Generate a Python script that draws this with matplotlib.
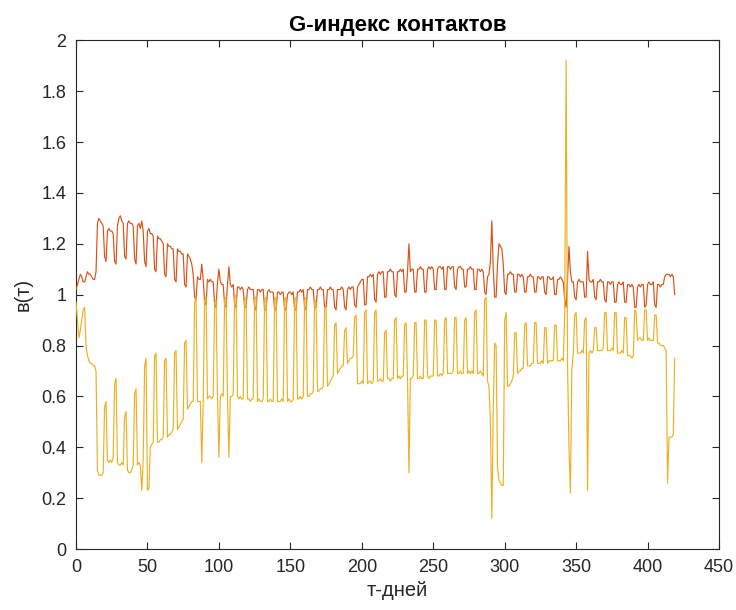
import numpy as np
import matplotlib
matplotlib.use("Agg")
import matplotlib.pyplot as plt
from matplotlib.ticker import FormatStrFormatter

plt.rcParams["font.family"] = ["Liberation Sans", "DejaVu Sans"]

# values, one row per week (days 7w .. 7w+6)
g_upper = [
  1.02, 1.04, 1.06, 1.08, 1.07, 1.05, 1.05,
  1.07, 1.09, 1.08, 1.08, 1.07, 1.06, 1.06,
  1.09, 1.28, 1.30, 1.29, 1.28, 1.27, 1.15,
  1.13, 1.25, 1.26, 1.25, 1.25, 1.24, 1.13,
  1.12, 1.27, 1.30, 1.31, 1.29, 1.28, 1.15,
  1.14, 1.28, 1.29, 1.28, 1.28, 1.27, 1.14,
  1.12, 1.27, 1.28, 1.26, 1.29, 1.25, 1.13,
  1.11, 1.25, 1.26, 1.24, 1.24, 1.23, 1.10,
  1.09, 1.23, 1.22, 1.22, 1.21, 1.20, 1.08,
  1.07, 1.20, 1.19, 1.19, 1.18, 1.18, 1.06,
  1.05, 1.18, 1.17, 1.17, 1.16, 1.16, 1.04,
  1.03, 1.16, 1.15, 1.14, 1.12, 1.08, 0.99,
  0.98, 1.07, 1.06, 1.06, 1.12, 1.06, 0.97,
  0.96, 1.06, 1.05, 1.06, 1.05, 1.05, 0.96,
  0.95, 1.05, 1.10, 1.05, 1.04, 1.04, 0.96,
  0.95, 1.04, 1.11, 1.04, 1.03, 1.04, 0.96,
  0.95, 1.03, 1.03, 1.02, 1.03, 1.02, 0.95,
  0.95, 1.02, 1.03, 1.02, 1.02, 1.02, 0.95,
  0.94, 1.02, 1.02, 1.01, 1.02, 1.02, 0.94,
  0.94, 1.01, 1.02, 1.01, 1.01, 1.01, 0.94,
  0.94, 1.01, 1.01, 1.00, 1.01, 1.01, 0.94,
  0.94, 1.00, 1.01, 1.01, 1.00, 1.01, 0.94,
  0.94, 1.01, 1.01, 1.02, 1.01, 1.02, 0.95,
  0.94, 1.02, 1.02, 1.03, 1.02, 1.02, 0.95,
  0.95, 1.02, 1.02, 1.03, 1.02, 1.02, 0.95,
  0.95, 1.02, 1.02, 1.03, 1.02, 1.02, 0.95,
  0.94, 1.02, 1.02, 1.02, 1.03, 1.02, 0.95,
  0.94, 1.02, 1.03, 1.02, 1.03, 1.03, 0.96,
  0.95, 1.03, 1.04, 1.05, 1.06, 1.06, 0.96,
  0.96, 1.07, 1.07, 1.08, 1.07, 1.08, 0.98,
  0.97, 1.08, 1.09, 1.08, 1.09, 1.09, 0.99,
  0.99, 1.09, 1.09, 1.10, 1.09, 1.09, 1.00,
  0.99, 1.09, 1.09, 1.10, 1.09, 1.10, 1.01,
  1.01, 1.09, 1.20, 1.09, 1.10, 1.10, 1.01,
  1.01, 1.10, 1.10, 1.11, 1.10, 1.10, 1.01,
  1.01, 1.10, 1.11, 1.10, 1.11, 1.10, 1.02,
  1.02, 1.10, 1.11, 1.11, 1.10, 1.11, 1.02,
  1.02, 1.11, 1.11, 1.10, 1.11, 1.11, 1.03,
  1.02, 1.10, 1.11, 1.11, 1.10, 1.10, 1.03,
  1.03, 1.10, 1.10, 1.11, 1.10, 1.10, 1.02,
  1.02, 1.10, 1.10, 1.09, 1.10, 1.09, 1.01,
  1.00, 1.07, 1.08, 1.13, 1.29, 1.10, 0.99,
  0.99, 1.12, 1.20, 1.19, 1.18, 1.12, 1.01,
  1.00, 1.08, 1.08, 1.09, 1.08, 1.08, 1.01,
  1.01, 1.08, 1.08, 1.07, 1.08, 1.07, 1.01,
  1.01, 1.07, 1.07, 1.08, 1.07, 1.07, 1.01,
  1.01, 1.07, 1.07, 1.06, 1.07, 1.07, 1.01,
  1.00, 1.07, 1.07, 1.06, 1.06, 1.07, 1.00,
  1.00, 1.06, 1.06, 1.07, 1.06, 1.05, 0.98,
  0.95, 1.06, 1.19, 1.09, 1.05, 1.05, 0.99,
  0.98, 1.05, 1.06, 1.05, 1.05, 1.05, 0.99,
  0.99, 1.17, 1.06, 1.05, 1.05, 1.06, 0.99,
  0.98, 1.05, 1.05, 1.06, 1.05, 1.05, 0.98,
  0.97, 1.05, 1.05, 1.04, 1.05, 1.05, 0.97,
  0.97, 1.04, 1.05, 1.04, 1.04, 1.05, 0.97,
  0.97, 1.04, 1.04, 1.03, 1.04, 1.03, 0.95,
  0.95, 1.03, 1.04, 1.03, 1.04, 1.04, 0.95,
  0.96, 1.04, 1.05, 1.04, 1.04, 1.05, 0.96,
  0.95, 1.04, 1.04, 1.03, 1.04, 1.04, 1.07,
  1.08, 1.08, 1.08, 1.07, 1.08, 1.07, 1.00,
]

g_lower = [
  0.97, 0.90, 0.83, 0.86, 0.90, 0.94, 0.95,
  0.80, 0.76, 0.74, 0.73, 0.73, 0.72, 0.72,
  0.70, 0.31, 0.29, 0.29, 0.29, 0.30, 0.56,
  0.58, 0.35, 0.34, 0.35, 0.34, 0.36, 0.65,
  0.67, 0.34, 0.33, 0.33, 0.34, 0.33, 0.52,
  0.54, 0.31, 0.30, 0.30, 0.31, 0.33, 0.61,
  0.63, 0.33, 0.34, 0.33, 0.23, 0.35, 0.72,
  0.75, 0.23, 0.24, 0.40, 0.41, 0.42, 0.76,
  0.77, 0.42, 0.42, 0.43, 0.43, 0.44, 0.74,
  0.75, 0.44, 0.45, 0.45, 0.46, 0.47, 0.77,
  0.78, 0.47, 0.48, 0.49, 0.50, 0.51, 0.81,
  0.82, 0.55, 0.56, 0.57, 0.58, 0.58, 0.97,
  0.99, 0.58, 0.58, 0.58, 0.34, 0.58, 0.98,
  0.99, 0.59, 0.60, 0.60, 0.59, 0.60, 0.97,
  0.98, 0.60, 0.36, 0.60, 0.61, 0.60, 0.98,
  0.99, 0.60, 0.36, 0.60, 0.60, 0.61, 0.99,
  1.00, 0.60, 0.59, 0.60, 0.59, 0.59, 0.99,
  0.98, 0.59, 0.59, 0.58, 0.59, 0.59, 0.99,
  0.99, 0.58, 0.59, 0.58, 0.58, 0.59, 0.98,
  0.99, 0.58, 0.58, 0.59, 0.58, 0.58, 0.99,
  0.98, 0.58, 0.58, 0.58, 0.59, 0.58, 0.98,
  0.99, 0.58, 0.59, 0.58, 0.58, 0.59, 0.98,
  0.99, 0.59, 0.59, 0.60, 0.59, 0.60, 0.99,
  0.98, 0.60, 0.60, 0.61, 0.61, 0.62, 0.98,
  0.97, 0.62, 0.62, 0.63, 0.63, 0.64, 0.95,
  0.95, 0.64, 0.65, 0.66, 0.67, 0.68, 0.88,
  0.89, 0.69, 0.70, 0.71, 0.72, 0.72, 0.86,
  0.87, 0.73, 0.74, 0.75, 0.75, 0.76, 0.91,
  0.92, 0.65, 0.65, 0.65, 0.66, 0.65, 0.93,
  0.94, 0.65, 0.66, 0.66, 0.65, 0.66, 0.93,
  0.94, 0.66, 0.66, 0.67, 0.66, 0.66, 0.85,
  0.86, 0.67, 0.67, 0.66, 0.67, 0.67, 0.90,
  0.91, 0.67, 0.68, 0.67, 0.68, 0.68, 0.88,
  0.89, 0.67, 0.30, 0.67, 0.67, 0.68, 0.89,
  0.89, 0.67, 0.67, 0.68, 0.67, 0.67, 0.90,
  0.90, 0.68, 0.67, 0.68, 0.68, 0.68, 0.90,
  0.90, 0.68, 0.68, 0.69, 0.68, 0.69, 0.90,
  0.91, 0.69, 0.69, 0.69, 0.69, 0.70, 0.91,
  0.91, 0.69, 0.69, 0.70, 0.69, 0.69, 0.90,
  0.91, 0.69, 0.70, 0.69, 0.70, 0.69, 0.93,
  0.94, 0.69, 0.69, 0.70, 0.69, 0.68, 0.98,
  0.99, 0.66, 0.64, 0.50, 0.12, 0.55, 0.81,
  0.80, 0.32, 0.27, 0.26, 0.25, 0.25, 0.90,
  0.93, 0.64, 0.64, 0.65, 0.66, 0.68, 0.85,
  0.85, 0.69, 0.70, 0.70, 0.71, 0.71, 0.88,
  0.89, 0.72, 0.72, 0.72, 0.73, 0.73, 0.89,
  0.89, 0.73, 0.73, 0.73, 0.74, 0.73, 0.87,
  0.87, 0.73, 0.74, 0.74, 0.74, 0.74, 0.88,
  0.88, 0.74, 0.74, 0.74, 0.75, 0.74, 0.92,
  1.92, 0.72, 0.40, 0.22, 0.70, 0.77, 0.92,
  0.93, 0.77, 0.77, 0.77, 0.78, 0.77, 0.90,
  0.91, 0.23, 0.77, 0.78, 0.77, 0.78, 0.87,
  0.87, 0.78, 0.78, 0.78, 0.78, 0.79, 0.93,
  0.93, 0.78, 0.78, 0.78, 0.79, 0.78, 0.93,
  0.93, 0.77, 0.77, 0.77, 0.78, 0.77, 0.91,
  0.91, 0.76, 0.76, 0.76, 0.75, 0.76, 0.94,
  0.93, 0.82, 0.83, 0.83, 0.82, 0.82, 0.94,
  0.94, 0.82, 0.83, 0.82, 0.82, 0.82, 0.92,
  0.92, 0.81, 0.81, 0.80, 0.80, 0.80, 0.79,
  0.78, 0.26, 0.44, 0.44, 0.44, 0.45, 0.75,
]

days = np.arange(len(g_upper))

fig = plt.figure(figsize=(7.36, 6.10), dpi=100)
ax = fig.add_axes([0.1033, 0.1, 0.8736, 0.834])

ax.plot(days, g_upper, color="#D95319", linewidth=0.85)
ax.plot(days, g_lower, color="#EDB120", linewidth=0.85)

ax.set_xlim(0, 450)
ax.set_ylim(0, 2)
ax.set_xticks(np.arange(0, 451, 50))
ax.set_yticks(np.arange(0, 2.01, 0.2))
ax.yaxis.set_major_formatter(FormatStrFormatter("%g"))

dark = "#262626"
for s in ax.spines.values():
  s.set_color(dark)
  s.set_linewidth(0.8)
  s.set_zorder(1)
ax.tick_params(direction="in", length=5, width=0.8, colors=dark,
               labelsize=13, top=True, right=True, pad=7)

ax.set_title("G-индекс контактов", fontsize=16, fontweight="bold",
             color="black", pad=7)
ax.set_xlabel("т-дней", fontsize=14.5, color=dark, labelpad=4)
ax.set_ylabel("в(т)", fontsize=14.5, color=dark, labelpad=6)

fig.savefig("out.png", dpi=100)
